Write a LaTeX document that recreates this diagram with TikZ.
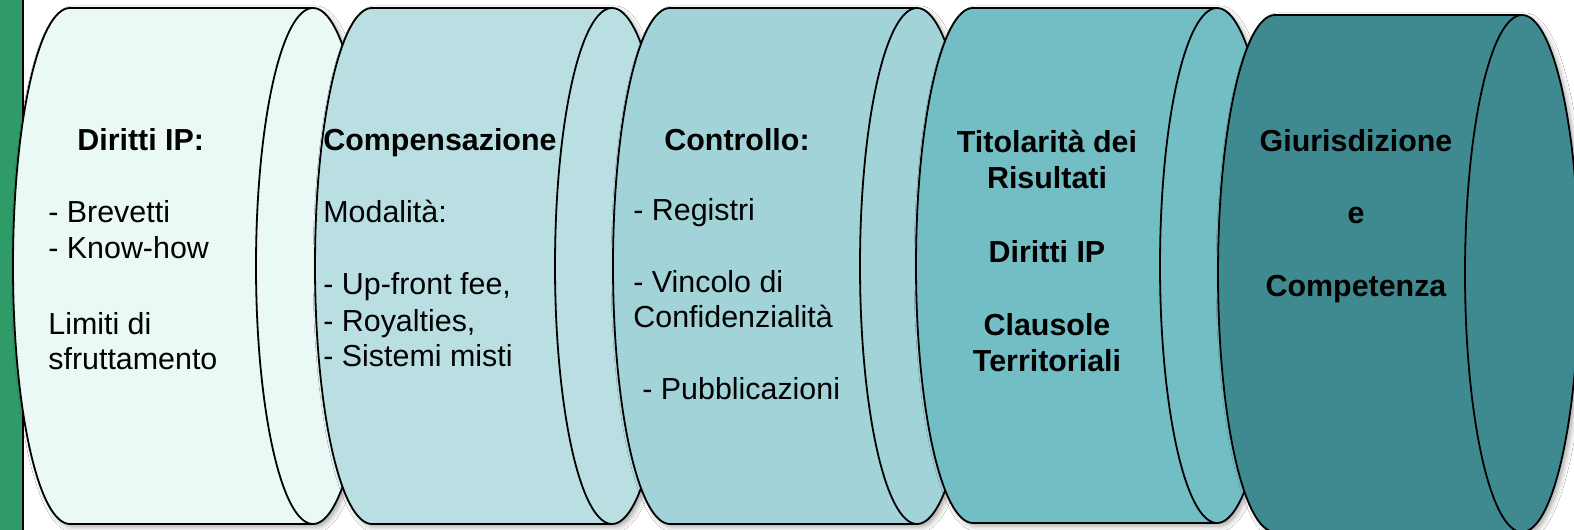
\documentclass[tikz,border=0pt]{standalone}
\usepackage{fontspec}
\setmainfont{Liberation Sans}
\usetikzlibrary{shadows.blur}
\definecolor{stripgreen}{HTML}{2E9B68}
\definecolor{canA}{HTML}{EAF8F6}
\definecolor{canB}{HTML}{B9DFE3}
\definecolor{canC}{HTML}{A1D3D8}
\definecolor{canD}{HTML}{72BEC4}
\definecolor{canE}{HTML}{3E8A90}
\tikzset{
  can/.style={draw=black, line width=0.9pt,
    blur shadow={shadow xshift=1.5pt, shadow yshift=-1.5pt, shadow blur radius=2.5pt, shadow opacity=35}},
  canline/.style={draw=black, line width=0.9pt},
  lbl/.style={font=\fontsize{15.2}{18}\selectfont, inner sep=0pt, anchor=base west, text=black},
  lblc/.style={lbl, anchor=base},
  hd/.style={font=\fontsize{15.2}{18}\selectfont\bfseries},
}
\newcommand\drawcan[5]{%
  \pgfmathsetmacro\canry{(#3-#4)/4}%
  \path[can, fill=#5] (#1,#3) -- (#2,#3)
     arc[start angle=90, end angle=-90, x radius=28.5pt, y radius=\canry pt]
     -- (#1,#4)
     arc[start angle=270, end angle=90, x radius=28.5pt, y radius=\canry pt] -- cycle;
  \draw[canline] (#2,#3) arc[start angle=90, end angle=270, x radius=28.5pt, y radius=\canry pt];
}
\begin{document}
\begin{tikzpicture}[x=0.5pt,y=0.5pt]
\clip (0,0) rectangle (1574,530);
\fill[white] (0,0) rectangle (1574,530);
\fill[stripgreen] (0,0) rectangle (22,530);
\draw[line width=1pt] (22.5,0) -- (22.5,530);

\drawcan{70}{313}{522}{6}{canA}
\drawcan{372}{612}{522}{6}{canB}
\drawcan{670}{917}{522}{6}{canC}
\drawcan{973}{1217}{522}{7}{canD}
\drawcan{1275}{1522}{515}{-2}{canE}

% cylinder 1
\node[lbl,hd] (a0) at (77,379) {Diritti IP:};
\node[lbl] (a1) at (48,307) {- Brevetti};
\node[lbl] (a2) at (48,271) {- Know-how};
\node[lbl] (a3) at (48,195) {Limiti di};
\node[lbl] (a4) at (48,160) {sfruttamento};
% cylinder 2
\node[lbl,hd] (b0) at (323,379) {Compensazione};
\node[lbl] (b1) at (323,307) {Modalità:};
\node[lbl] (b2) at (323,235) {- Up-front fee,};
\node[lbl] (b3) at (323,198) {- Royalties,};
\node[lbl] (b4) at (323,163) {- Sistemi misti};
% cylinder 3
\node[lbl,hd] (c0) at (664,379) {Controllo:};
\node[lbl] (c1) at (633,309) {- Registri};
\node[lbl] (c2) at (633,237) {- Vincolo di};
\node[lbl] (c3) at (633,202) {Confidenzialità};
\node[lbl] (c4) at (642,130) {- Pubblicazioni};
% cylinder 4
\node[lblc,hd] (d0) at (1047,377) {Titolarità dei};
\node[lblc,hd] (d1) at (1047,341) {Risultati};
\node[lblc,hd] (d2) at (1047,267) {Diritti IP};
\node[lblc,hd] (d3) at (1047,194) {Clausole};
\node[lblc,hd] (d4) at (1047,158) {Territoriali};
% cylinder 5
\node[lblc,hd] (e0) at (1356,378) {Giurisdizione};
\node[lblc,hd] (e1) at (1356,306) {e};
\node[lblc,hd] (e2) at (1356,233) {Competenza};
\end{tikzpicture}
\end{document}
